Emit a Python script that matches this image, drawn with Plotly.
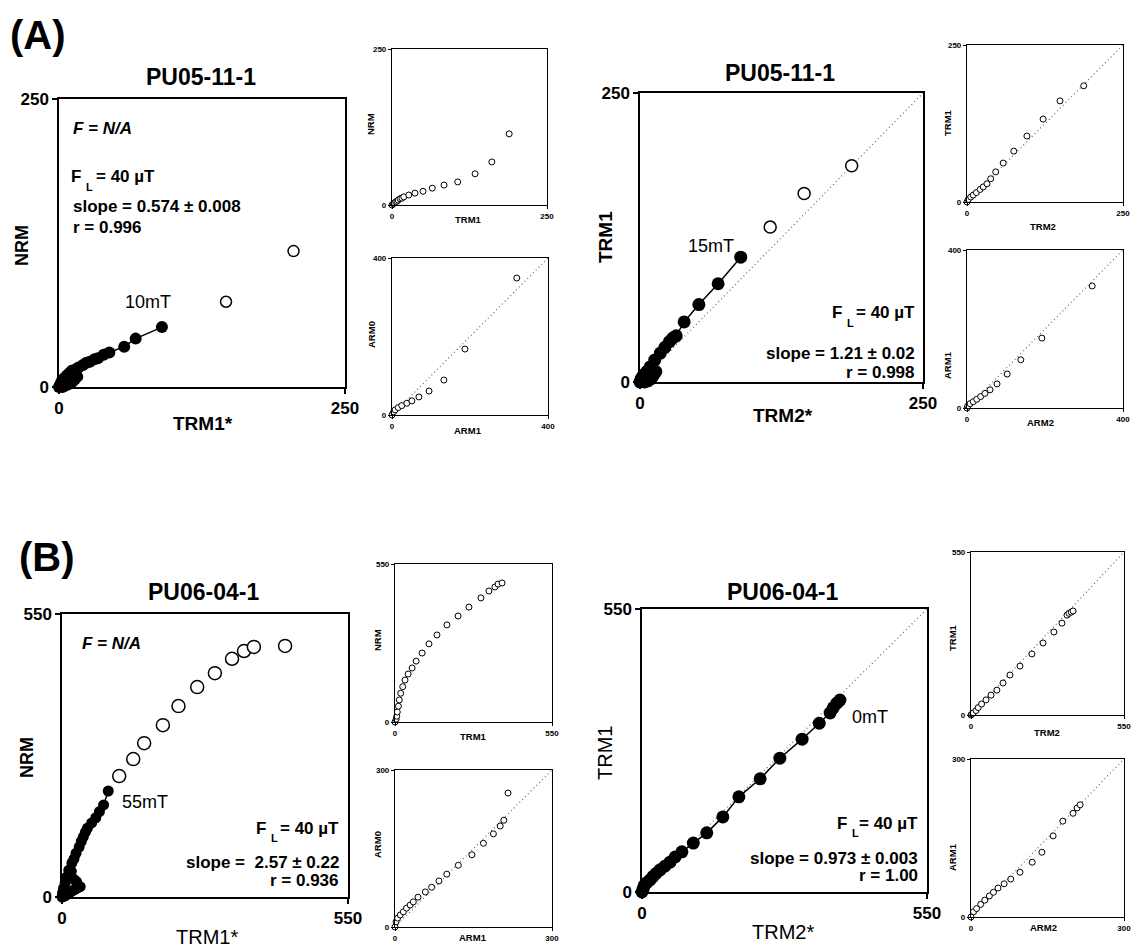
import plotly.graph_objects as go

PAGE_W, PAGE_H = 1133, 949
OFF = 0                      # body margin is removed by the post script
W, H = PAGE_W - 2 * OFF, PAGE_H - 2 * OFF
FONT = "Liberation Sans"

# ======================= DATA =======================
# (A) PU05-11-1  main: NRM vs TRM1*
a1_fill_x = [0, 1, 2, 3, 5, 7, 9, 11, 14, 17, 21, 24, 27, 31, 34, 39, 44, 57, 67, 90]
a1_fill_y = [0, 2, 4, 6, 8, 10, 12, 14, 15, 17, 19, 21, 22, 24, 25, 28, 30, 35, 42, 52]
a1_low_x = [3, 5, 7, 10, 12, 14, 16]
a1_low_y = [0, 1, 2, 3, 5, 7, 9]
a1_open_x = [146, 205]
a1_open_y = [74, 118]

# (A) small: NRM vs TRM1
a2_x = [0, 2, 4, 6, 8, 10, 13, 16, 19, 27, 37, 50, 65, 84, 106, 134, 161, 189]
a2_y = [0, 2, 3, 5, 6, 8, 10, 11, 13, 16, 19, 22, 27, 32, 37, 50, 69, 114]

# (A) small: ARM0 vs ARM1
a3_x = [0, 4, 8, 16, 25, 38, 51, 69, 95, 133, 187, 320]
a3_y = [0, 8, 13, 19, 24, 30, 36, 46, 61, 89, 168, 349]

# (A) main: TRM1 vs TRM2*
a4_fill_x = [0, 1, 3, 6, 9, 13, 18, 22, 26, 29, 32, 39, 52, 69, 89]
a4_fill_y = [0, 3, 6, 9, 13, 19, 25, 30, 35, 38, 40, 52, 67, 85, 108]
a4_low_x = [4, 7, 10, 12, 14]
a4_low_y = [0, 1, 3, 6, 9]
a4_open_x = [115, 145, 187]
a4_open_y = [134, 163, 187]

# (A) small: TRM1 vs TRM2
a5_x = [0, 2, 6, 10, 15, 21, 26, 32, 38, 46, 58, 75, 96, 122, 149, 187]
a5_y = [0, 4, 8, 11, 15, 20, 24, 29, 37, 48, 62, 81, 105, 132, 161, 185]

# (A) small: ARM1 vs ARM2
a6_x = [0, 2, 8, 16, 25, 35, 46, 59, 77, 103, 138, 192, 321]
a6_y = [0, 5, 11, 16, 22, 29, 37, 46, 61, 86, 122, 177, 309]

# (B) PU06-04-1  main: NRM vs TRM1*
b1_fill_x = [0, 1, 3, 6, 9, 13, 19, 23, 27, 33, 37, 41, 45, 49, 57, 65, 72, 80, 89]
b1_fill_y = [0, 8, 17, 27, 39, 52, 66, 74, 85, 97, 108, 117, 126, 134, 144, 154, 166, 179, 206]
b1_hook_x = [6, 10, 15, 20, 25, 30, 35, 28, 22, 14, 18]
b1_hook_y = [2, 5, 9, 12, 15, 18, 20, 30, 35, 40, 50]
b1_open_x = [110, 137, 158, 194, 224, 260, 294, 327, 350, 369, 429]
b1_open_y = [235, 268, 299, 334, 371, 408, 435, 463, 478, 486, 488]

# (B) small: NRM vs TRM1
b2_x = [0, 4, 6, 8, 12, 15, 20, 27, 35, 46, 60, 74, 95, 119, 147, 182, 221, 259, 301, 329, 350, 361, 375]
b2_y = [0, 10, 20, 35, 55, 77, 100, 123, 146, 167, 188, 212, 240, 272, 303, 338, 369, 400, 432, 456, 470, 480, 484]

# (B) small: ARM0 vs ARM1
b3_x = [0, 2, 5, 10, 16, 22, 29, 35, 44, 58, 70, 84, 99, 121, 147, 169, 188, 201, 208, 216]
b3_y = [0, 10, 17, 23, 29, 36, 42, 48, 57, 67, 76, 88, 101, 118, 138, 160, 178, 193, 204, 256]

# (B) main: TRM1 vs TRM2*
b4_fill_x = [0, 2, 4, 9, 15, 21, 27, 35, 44, 54, 64, 77, 99, 125, 156, 187, 228, 266, 309, 342, 363, 369, 376, 382]
b4_fill_y = [0, 5, 12, 18, 23, 30, 36, 43, 50, 58, 68, 78, 95, 115, 146, 185, 220, 260, 297, 328, 348, 358, 367, 373]

# (B) small: TRM1 vs TRM2
b5_x = [0, 3, 8, 18, 26, 38, 54, 72, 93, 115, 140, 176, 219, 259, 298, 327, 345, 352, 360, 367]
b5_y = [0, 3, 7, 15, 25, 37, 51, 67, 84, 108, 135, 165, 206, 243, 280, 310, 337, 343, 347, 351]

# (B) small: ARM1 vs ARM2
b6_x = [0, 5, 11, 19, 27, 36, 44, 53, 65, 78, 96, 120, 139, 161, 180, 200, 208, 214]
b6_y = [0, 10, 16, 24, 32, 40, 47, 55, 63, 72, 85, 104, 123, 154, 182, 197, 207, 213]

# axis maxima (tick labels) for the 12 panels
axis_max = [250, 250, 400, 250, 250, 400, 550, 550, 300, 550, 550, 300]

# ======================= LAYOUT =======================
# pixel boxes on the page (left, right, top, bottom)
boxes = [
    (59, 345, 99, 387),     # 1 A main left
    (392, 547, 49, 205),    # 2 A small NRM/TRM1
    (392, 548, 258, 415),   # 3 A small ARM0/ARM1
    (640, 923, 93, 382),    # 4 A main right
    (967, 1123, 45, 202),   # 5 A small TRM1/TRM2
    (967, 1123, 250, 408),  # 6 A small ARM1/ARM2
    (62, 348, 614, 897),    # 7 B main left
    (395, 552, 564, 722),   # 8 B small NRM/TRM1
    (395, 552, 770, 927),   # 9 B small ARM0/ARM1
    (642, 927, 609, 892),   # 10 B main right
    (971, 1124, 552, 715),  # 11 B small TRM1/TRM2
    (971, 1124, 759, 917),  # 12 B small ARM1/ARM2
]
main_panels = {1, 4, 7, 10}
diag_panels = {3, 4, 5, 6, 9, 10, 11, 12}


def fx(x):
    return (x - OFF) / W


def fy(y):
    return 1 - (y - OFF) / H


def ax(i):
    k = "" if i == 1 else str(i)
    return "x" + k, "y" + k


fig = go.Figure()
layout = {}
for i, (x0, x1, y0, y1) in enumerate(boxes, start=1):
    k = "" if i == 1 else str(i)
    vmax = axis_max[i - 1]
    main = i in main_panels
    fs = 17 if main else 8
    common = dict(
        range=[0, vmax], tickvals=[0, vmax],
        ticktext=["<b>0</b>", f"<b>{vmax}</b>"],
        ticks="outside", ticklen=5 if main else 3, tickwidth=1.5 if main else 1,
        tickcolor="black", showline=True, mirror=True, linecolor="black",
        linewidth=1.5 if main else 1.2, showgrid=False, zeroline=False,
        tickfont=dict(family=FONT, size=fs, color="black"), fixedrange=True,
        automargin=False,
    )
    layout["xaxis" + k] = dict(domain=[fx(x0), fx(x1)], anchor="y" + k, **common)
    layout["yaxis" + k] = dict(domain=[fy(y1), fy(y0)], anchor="x" + k, **common)
    if i in diag_panels:
        xa, ya = ax(i)
        fig.add_trace(go.Scatter(x=[0, vmax], y=[0, vmax], mode="lines", xaxis=xa, yaxis=ya,
                                 line=dict(color="#666666", width=1.2, dash="1px,3px"),
                                 hoverinfo="skip"))


def filled(i, x, y, size, line=True):
    xa, ya = ax(i)
    fig.add_trace(go.Scatter(x=x, y=y, mode="lines+markers" if line else "markers",
                             xaxis=xa, yaxis=ya, cliponaxis=False,
                             line=dict(color="black", width=1.5),
                             marker=dict(size=size, color="black", line=dict(width=0))))


def opened(i, x, y, size, lw=1.5):
    xa, ya = ax(i)
    fig.add_trace(go.Scatter(x=x, y=y, mode="markers", xaxis=xa, yaxis=ya, cliponaxis=False,
                             marker=dict(size=size, color="white", symbol="circle",
                                         line=dict(color="black", width=lw))))


# panel 1
filled(1, a1_fill_x, a1_fill_y, 12)
filled(1, a1_low_x, a1_low_y, 12, line=False)
opened(1, a1_open_x, a1_open_y, 11)
# panel 2,3
opened(2, a2_x, a2_y, 6, 1)
opened(3, a3_x, a3_y, 6, 1)
# panel 4
filled(4, a4_fill_x, a4_fill_y, 13)
filled(4, a4_low_x, a4_low_y, 13, line=False)
opened(4, a4_open_x, a4_open_y, 12)
# panel 5,6
opened(5, a5_x, a5_y, 6, 1)
opened(6, a6_x, a6_y, 6, 1)
# panel 7
opened(7, b1_open_x, b1_open_y, 13)
filled(7, b1_fill_x, b1_fill_y, 11)
filled(7, b1_hook_x, b1_hook_y, 11, line=False)
# panel 8,9
opened(8, b2_x, b2_y, 6, 1)
opened(9, b3_x, b3_y, 6, 1)
# panel 10
filled(10, b4_fill_x, b4_fill_y, 13)
# panel 11,12
opened(11, b5_x, b5_y, 6, 1)
opened(12, b6_x, b6_y, 6, 1)

ann = []


def text(x, y, t, size, xanchor="center", angle=0):
    ann.append(dict(x=fx(x), y=fy(y), xref="paper", yref="paper", text=t, showarrow=False,
                    xanchor=xanchor, yanchor="middle", textangle=angle,
                    font=dict(family=FONT, size=size, color="black")))


def dtext(i, x, y, t, size, xanchor="center"):
    xa, ya = ax(i)
    ann.append(dict(x=x, y=y, xref=xa, yref=ya, text=t, showarrow=False,
                    xanchor=xanchor, yanchor="middle",
                    font=dict(family=FONT, size=size, color="black")))


def field_label(x_f_right, y, x_rest, rest_anchor):
    # "F" with subscript "L", followed by " = 40 µT"
    text(x_f_right, y, "<b>F</b>", 17, xanchor="right")
    text(x_f_right + 0.5, y + 10, "<b>L</b>", 11, xanchor="left")
    text(x_rest, y, "<b>= 40 µT</b>", 17, xanchor=rest_anchor)


# panel labels and titles
text(38, 35, "<b>(A)</b>", 40)
text(47, 557, "<b>(B)</b>", 40)
text(201, 77, "<b>PU05-11-1</b>", 23)
text(780, 73, "<b>PU05-11-1</b>", 23)
text(203, 592, "<b>PU06-04-1</b>", 23)
text(782, 592, "<b>PU06-04-1</b>", 23)

# main axis titles
text(22, 245, "<b>NRM</b>", 18, angle=-90)
text(203, 423, "<b>TRM1*</b>", 19)
text(605, 237, "<b>TRM1</b>", 19, angle=-90)
text(783, 415, "<b>TRM2*</b>", 19)
text(27, 758, "<b>NRM</b>", 18, angle=-90)
text(207, 937, "TRM1*", 20)
text(605, 753, "TRM1", 20, angle=-90)
text(783, 932, "TRM2*", 20)

# small axis titles
for (x, y, t, a) in [
    (371, 124, "NRM", -90), (468, 219, "TRM1", 0),
    (371, 335, "ARM0", -90), (468, 430, "ARM1", 0),
    (948, 123, "TRM1", -90), (1043, 227, "TRM2", 0),
    (948, 365, "ARM1", -90), (1040, 422, "ARM2", 0),
    (377, 640, "NRM", -90), (473, 736, "TRM1", 0),
    (377, 845, "ARM0", -90), (473, 937, "ARM1", 0),
    (952, 638, "TRM1", -90), (1047, 732, "TRM2", 0),
    (952, 857, "ARM1", -90), (1043, 927, "ARM2", 0),
]:
    text(x, y, f"<b>{t}</b>", 9.5, angle=a)

# in-panel statistics
text(71, 128, "<b><i>F = N/A</i></b>", 17, xanchor="left")
field_label(83, 177, 94, "left")
text(71, 206, "<b>slope = 0.574 ± 0.008</b>", 17, xanchor="left")
text(71, 228, "<b>r = 0.996</b>", 17, xanchor="left")

field_label(844, 313, 917, "right")
text(917, 353, "<b>slope = 1.21 ± 0.02</b>", 17, xanchor="right")
text(917, 372, "<b>r = 0.998</b>", 17, xanchor="right")

text(80, 643, "<b><i>F = N/A</i></b>", 17, xanchor="left")
field_label(268, 828, 341, "right")
text(341, 862, "<b>slope =  2.57 ± 0.22</b>", 17, xanchor="right")
text(341, 880, "<b>r = 0.936</b>", 17, xanchor="right")

field_label(849, 823, 920, "right")
text(920, 858, "<b>slope = 0.973 ± 0.003</b>", 17, xanchor="right")
text(920, 875, "<b>r = 1.00</b>", 17, xanchor="right")

# step labels
dtext(1, 78, 74, "10mT", 18)
dtext(4, 63, 118, "15mT", 18)
dtext(7, 112, 185, "55mT", 18, xanchor="left")
dtext(10, 401, 340, "0mT", 18, xanchor="left")

fig.update_layout(
    width=W, height=H, margin=dict(l=0, r=0, t=0, b=0, autoexpand=False),
    paper_bgcolor="white", plot_bgcolor="white", showlegend=False,
    annotations=ann, **layout,
)

fig.write_html(
    "out.html",
    config={"displayModeBar": False},
    post_script="document.body.style.margin='0px';document.body.style.overflow='hidden';",
)
